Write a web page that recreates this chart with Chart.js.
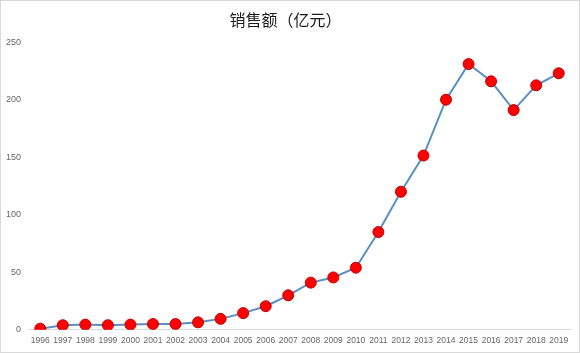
<!DOCTYPE html>
<html lang="zh">
<head>
  <meta charset="UTF-8">
  <title>销售额（亿元）</title>
  <script src="https://cdn.jsdelivr.net/npm/chart.js"></script>
  <style>
    html, body { margin: 0; padding: 0; background: #fff; }
    #wrap { width: 580px; height: 353px; box-sizing: border-box; border: 1px solid #d9d9d9; position: relative; }
    canvas { position: absolute; left: 0; top: 0; }
  </style>
</head>
<body>
  <div id="wrap">
    <canvas id="salesChart" width="580" height="353"></canvas>
  </div>

  <script>
    // 年份与销售额（亿元）
    const years = ['1996', '1997', '1998', '1999', '2000', '2001', '2002', '2003', '2004', '2005', '2006', '2007',
                   '2008', '2009', '2010', '2011', '2012', '2013', '2014', '2015', '2016', '2017', '2018', '2019'];
    const sales = [1, 4, 4.5, 4, 4.5, 5, 5, 6.5, 9.5, 14.5, 20.5, 30,
                   41, 45.5, 54, 85, 120, 151.5, 200, 231, 216, 191, 212.5, 223];
    const yTicks = [0, 50, 100, 150, 200, 250];

    const ctx = document.getElementById('salesChart').getContext('2d');

    new Chart(ctx, {
      type: 'line',
      data: {
        labels: years,
        datasets: [{
          label: '销售额',
          data: sales,
          borderColor: '#5b8ec4',
          borderWidth: 2,
          tension: 0,
          pointRadius: 5.5,
          pointHoverRadius: 5.5,
          pointBackgroundColor: '#ff0000',
          pointBorderColor: '#c00000',
          pointBorderWidth: 1
        }]
      },
      options: {
        responsive: false,
        animation: false,
        layout: { padding: { left: 0, right: 11, top: 0, bottom: 2 } },
        plugins: {
          legend: { display: false },
          tooltip: { enabled: false },
          title: {
            display: true,
            text: '销售额（亿元）',
            color: '#1a1a1a',
            font: { family: '"Noto Sans CJK SC", sans-serif', size: 16, weight: 'normal' },
            padding: { top: 9, bottom: 13 }
          }
        },
        scales: {
          x: {
            offset: true,
            grid: { display: false, drawTicks: false },
            border: { display: true, color: '#d9d9d9', width: 1 },
            ticks: {
              color: '#666666',
              font: { family: '"Liberation Sans", sans-serif', size: 8.5 },
              padding: 6,
              maxRotation: 0,
              autoSkip: false
            }
          },
          y: {
            min: 0,
            max: 250,
            afterBuildTicks: axis => { axis.ticks = yTicks.map(v => ({ value: v })); },
            afterFit: axis => { axis.width = 28; },
            grid: { display: false, drawTicks: false },
            border: { display: false },
            ticks: {
              color: '#666666',
              font: { family: '"Liberation Sans", sans-serif', size: 9 },
              padding: 8
            }
          }
        }
      }
    });
  </script>
</body>
</html>
